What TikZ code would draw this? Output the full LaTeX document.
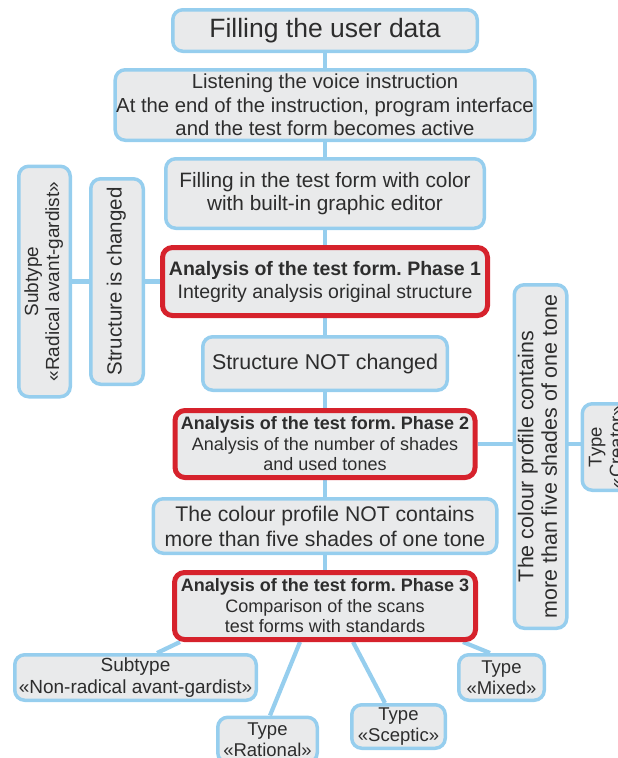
\documentclass[tikz,border=0pt]{standalone}
\usepackage{fontspec}
\setmainfont{Liberation Sans}
\usepackage{graphicx}
\usetikzlibrary{positioning,backgrounds}
\frenchspacing

\definecolor{lineblue}{RGB}{150,206,238}
\definecolor{boxgray}{RGB}{233,234,235}
\definecolor{phasered}{RGB}{214,34,44}
\definecolor{textgray}{RGB}{45,45,45}

\newcommand{\vtext}[1]{\rotatebox{90}{\begin{tabular}{@{}c@{}}#1\end{tabular}}}

\begin{document}
\begin{tikzpicture}[x=1pt,y=-1pt,
  stage/.style={draw=lineblue, fill=boxgray, line width=3.5pt, rounded corners=10pt,
    align=center, inner sep=1pt, text=textgray},
  phase/.style={stage, draw=phasered, line width=5pt},
  link/.style={lineblue, line width=4.2pt}]
 \useasboundingbox (0,0) rectangle (618,758);
 \clip (0,0) rectangle (618,758);
 % main column
 \node[stage, minimum width=304.5pt, minimum height=41.5pt,
   font=\fontsize{26.5}{30}\selectfont] (user) at (325,30.5) {Filling the user data};
 \node[stage, below=15pt of user, minimum width=419.5pt, minimum height=70.5pt,
   font=\fontsize{20.3}{23.3}\selectfont] (voice)
   {Listening the voice instruction\\At the end of the instruction, program interface\\and the test form becomes active};
 \node[stage, below=15pt of voice, minimum width=318.5pt, minimum height=69.5pt,
   font=\fontsize{20.8}{23.3}\selectfont] (fillin)
   {Filling in the test form with color\\with built-in graphic editor};
 \node[phase, below=15pt of fillin, minimum width=325pt, minimum height=68pt,
   font=\fontsize{19.5}{23}\selectfont] (ph1)
   {\textbf{Analysis of the test form. Phase 1}\\Integrity analysis original structure};
 \node[stage, below=17pt of ph1, minimum width=244.5pt, minimum height=53.5pt,
   font=\fontsize{21.4}{24}\selectfont] (notchg) {Structure NOT changed};
 \node[phase, below=16pt of notchg, minimum width=300pt, minimum height=67pt,
   font=\fontsize{18}{20.5}\selectfont] (ph2)
   {\textbf{Analysis of the test form. Phase 2}\\Analysis of the number of shades\\and used tones};
 \node[stage, below=17pt of ph2, minimum width=343.5pt, minimum height=54.5pt,
   font=\fontsize{21.2}{25}\selectfont] (colnot)
   {The colour profile NOT contains\\more than five shades of one tone};
 \node[phase, below=15pt of colnot, minimum width=301pt, minimum height=67pt,
   font=\fontsize{18}{20.5}\selectfont] (ph3)
   {\textbf{Analysis of the test form. Phase 3}\\Comparison of the scans\\test forms with standards};
 % side branches
 \node[stage, left=15pt of ph1, minimum width=52.5pt, minimum height=205.5pt,
   font=\fontsize{20.5}{23}\selectfont] (strchg) {\vtext{Structure is changed}};
 \node[stage, left=17pt of strchg, minimum width=51.5pt, minimum height=230.5pt,
   font=\fontsize{19}{21}\selectfont] (radical) {\vtext{Subtype\\«Radical avant-gardist»}};
 \node[stage, right=35pt of ph2, yshift=-12.5pt, minimum width=52.5pt, minimum height=343.5pt,
   font=\fontsize{21.4}{23.5}\selectfont] (colprof)
   {\vtext{The colour profile contains\\more than five shades of one tone}};
 \node[stage, right=12pt of colprof, yshift=9.5pt, minimum width=51.5pt, minimum height=86.5pt,
   font=\fontsize{18.5}{21}\selectfont] (creator) {\vtext{Type\\«Creator»}};
 % results of phase 3
 \node[stage, minimum width=241.5pt, minimum height=45.5pt,
   font=\fontsize{19}{21.5}\selectfont] (nonrad) at (135.5,677.5)
   {Subtype\\«Non-radical avant-gardist»};
 \node[stage, minimum width=99.5pt, minimum height=45.5pt,
   font=\fontsize{18.5}{21}\selectfont] (rational) at (267.5,740) {Type\\«Rational»};
 \node[stage, minimum width=93.5pt, minimum height=43.5pt,
   font=\fontsize{18.5}{21}\selectfont] (sceptic) at (398.5,726.5) {Type\\«Sceptic»};
 \node[stage, minimum width=85.5pt, minimum height=45.5pt,
   font=\fontsize{18.5}{21}\selectfont] (mixed) at (501.5,677.5) {Type\\«Mixed»};
 \begin{scope}[on background layer]
  \draw[link] (user) -- (voice) -- (fillin) -- (ph1) -- (notchg) -- (ph2) -- (colnot) -- (ph3);
  \draw[link] (radical) -- (strchg) -- (ph1);
  \draw[link] (ph2) -- (ph2 -| creator);
  \draw[link] ([xshift=-145pt]ph3.south) -- ([xshift=21.5pt]nonrad.north);
  \draw[link] ([xshift=-25pt]ph3.south) -- ([xshift=2.5pt]rational.north);
  \draw[link] ([xshift=28pt]ph3.south) -- ([xshift=-13.5pt]sceptic.north);
  \draw[link] ([xshift=138pt]ph3.south) -- ([xshift=-11.5pt]mixed.north);
 \end{scope}
\end{tikzpicture}
\end{document}
